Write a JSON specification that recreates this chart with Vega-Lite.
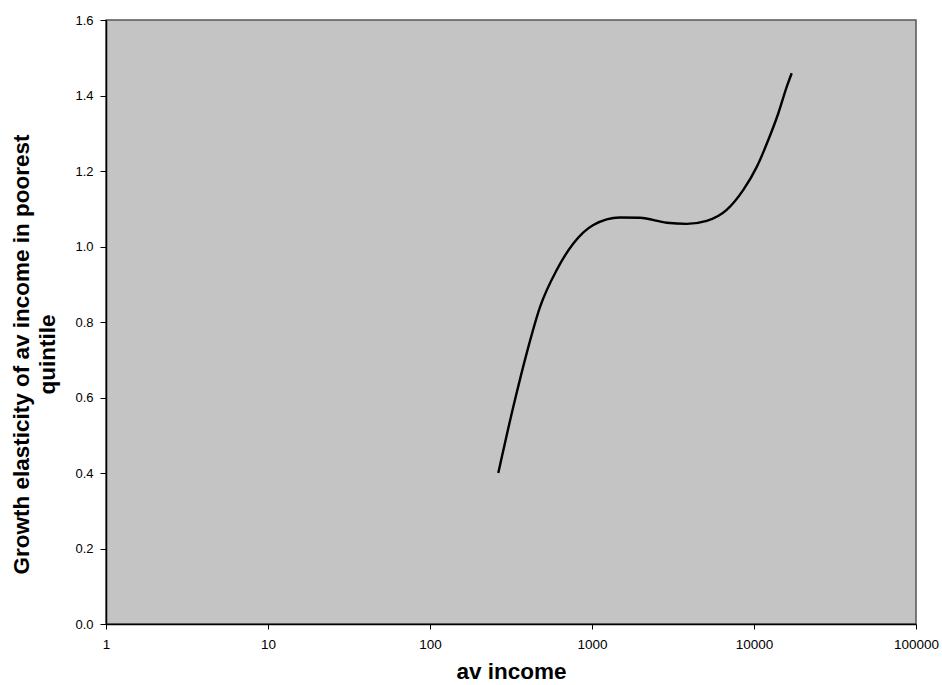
{
  "$schema": "https://vega.github.io/schema/vega-lite/v6.json",
  "width": 810,
  "height": 604,
  "autosize": {"type": "none"},
  "padding": {"left": 106, "top": 20, "right": 26, "bottom": 61},
  "background": "white",
  "config": {
    "font": "Liberation Sans",
    "view": {"fill": "#c4c4c4", "stroke": "#555555", "strokeWidth": 1.5}
  },
  "data": {
    "values": [
      {"income": 264, "elasticity": 0.40},
      {"income": 327, "elasticity": 0.576},
      {"income": 395, "elasticity": 0.717},
      {"income": 478, "elasticity": 0.84},
      {"income": 606, "elasticity": 0.938},
      {"income": 767, "elasticity": 1.008},
      {"income": 1019, "elasticity": 1.057},
      {"income": 1489, "elasticity": 1.077},
      {"income": 1978, "elasticity": 1.076},
      {"income": 2892, "elasticity": 1.063},
      {"income": 3843, "elasticity": 1.060},
      {"income": 5105, "elasticity": 1.068},
      {"income": 6781, "elasticity": 1.097},
      {"income": 8590, "elasticity": 1.15},
      {"income": 10400, "elasticity": 1.211},
      {"income": 12250, "elasticity": 1.282},
      {"income": 14130, "elasticity": 1.353},
      {"income": 15920, "elasticity": 1.423},
      {"income": 17090, "elasticity": 1.459}
    ]
  },
  "mark": {"type": "line", "color": "black", "strokeWidth": 2.4, "interpolate": "monotone"},
  "encoding": {
    "x": {
      "field": "income",
      "type": "quantitative",
      "scale": {"type": "log", "domain": [1, 100000], "nice": false},
      "axis": {
        "title": "av income",
        "values": [1, 10, 100, 1000, 10000, 100000],
        "format": "d",
        "grid": false,
        "labelFlush": false,
        "labelOverlap": false,
        "domainColor": "black",
        "domainWidth": 1.5,
        "tickColor": "black",
        "tickSize": 5,
        "labelPadding": 8,
        "labelFontSize": 13.5,
        "labelColor": "black",
        "titleFontSize": 22.5,
        "titleFontWeight": "bold",
        "titleColor": "black",
        "titleBaseline": "alphabetic",
        "titleY": 54
      }
    },
    "y": {
      "field": "elasticity",
      "type": "quantitative",
      "scale": {"domain": [0, 1.6], "nice": false},
      "axis": {
        "title": ["Growth elasticity of av income in poorest", "quintile"],
        "values": [0, 0.2, 0.4, 0.6, 0.8, 1.0, 1.2, 1.4, 1.6],
        "format": ".1f",
        "grid": false,
        "labelFlush": false,
        "labelOverlap": false,
        "domainColor": "black",
        "domainWidth": 1.5,
        "tickColor": "black",
        "tickSize": 6,
        "labelPadding": 7,
        "labelFontSize": 13,
        "labelColor": "black",
        "titleFontSize": 22.5,
        "titleFontWeight": "bold",
        "titleColor": "black",
        "titleLineHeight": 26,
        "titleBaseline": "middle",
        "titleAlign": "center",
        "titleAngle": -90,
        "titleX": -85,
        "titleY": 334
      }
    }
  }
}
